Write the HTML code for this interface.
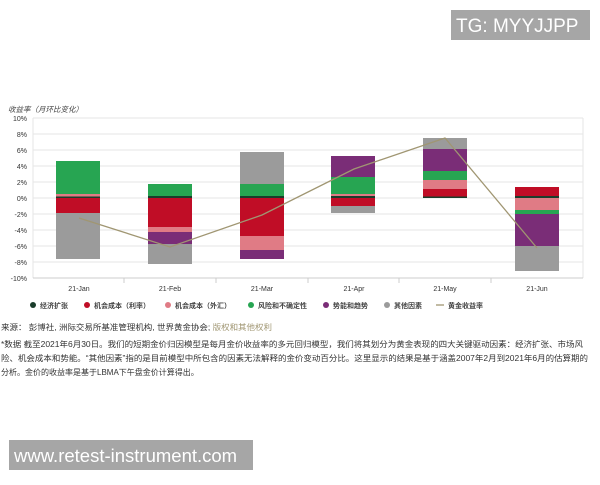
<!DOCTYPE html>
<html><head><meta charset="utf-8"><style>
body{margin:0;background:#fff;width:600px;height:480px;overflow:hidden;font-family:"Liberation Sans","Noto Sans CJK SC",sans-serif}
</style></head><body>
<svg width="600" height="480" xmlns="http://www.w3.org/2000/svg" font-family="Liberation Sans, Noto Sans CJK SC, sans-serif">
<rect x="451" y="10" width="139" height="30" fill="#a6a6a6"/>
<text x="456" y="32" font-size="19" fill="#fff">TG: MYYJJPP</text>
<text x="8" y="112" font-size="7.5" fill="#444" font-style="italic">收益率（月环比变化）</text>
<g stroke="#e6e6e6" stroke-width="1">
<line x1="33" y1="118" x2="583" y2="118"/><line x1="33" y1="134" x2="583" y2="134"/><line x1="33" y1="150" x2="583" y2="150"/><line x1="33" y1="166" x2="583" y2="166"/><line x1="33" y1="182" x2="583" y2="182"/><line x1="33" y1="198" x2="583" y2="198"/><line x1="33" y1="214" x2="583" y2="214"/><line x1="33" y1="230" x2="583" y2="230"/><line x1="33" y1="246" x2="583" y2="246"/><line x1="33" y1="262" x2="583" y2="262"/>
<line x1="33" y1="118" x2="33" y2="278"/><line x1="583" y1="118" x2="583" y2="278"/>
</g>
<line x1="33" y1="278" x2="583" y2="278" stroke="#ccc"/>
<g stroke="#ccc"><line x1="124" y1="278" x2="124" y2="283"/><line x1="216" y1="278" x2="216" y2="283"/><line x1="308" y1="278" x2="308" y2="283"/><line x1="399" y1="278" x2="399" y2="283"/><line x1="491" y1="278" x2="491" y2="283"/></g>
<g font-size="7" fill="#333" text-anchor="end">
<text x="27" y="121">10%</text><text x="27" y="137">8%</text><text x="27" y="153">6%</text><text x="27" y="169">4%</text><text x="27" y="185">2%</text><text x="27" y="201">0%</text><text x="27" y="217">-2%</text><text x="27" y="233">-4%</text><text x="27" y="249">-6%</text><text x="27" y="265">-8%</text><text x="27" y="281">-10%</text>
</g>
<g font-size="7" fill="#333" text-anchor="middle">
<text x="79" y="291">21-Jan</text><text x="170" y="291">21-Feb</text><text x="262" y="291">21-Mar</text><text x="354" y="291">21-Apr</text><text x="445" y="291">21-May</text><text x="537" y="291">21-Jun</text>
</g>
<rect x="56" y="161" width="44" height="33" fill="#27a552"/><rect x="56" y="194" width="44" height="2.5" fill="#e07b85"/><rect x="56" y="196.5" width="44" height="1.5" fill="#1a3d2b"/>
<rect x="56" y="198" width="44" height="15" fill="#c00d26"/><rect x="56" y="213" width="44" height="46" fill="#9b9b9b"/>
<rect x="148" y="184" width="44" height="12" fill="#27a552"/><rect x="148" y="196" width="44" height="2" fill="#1a3d2b"/>
<rect x="148" y="198" width="44" height="29" fill="#c00d26"/><rect x="148" y="227" width="44" height="5" fill="#e07b85"/><rect x="148" y="232" width="44" height="12" fill="#7a2d77"/><rect x="148" y="244" width="44" height="20" fill="#9b9b9b"/>
<rect x="240" y="152" width="44" height="32" fill="#9b9b9b"/><rect x="240" y="184" width="44" height="12" fill="#27a552"/><rect x="240" y="196" width="44" height="2" fill="#1a3d2b"/>
<rect x="240" y="198" width="44" height="38" fill="#c00d26"/><rect x="240" y="236" width="44" height="14" fill="#e07b85"/><rect x="240" y="250" width="44" height="9" fill="#7a2d77"/>
<rect x="331" y="156" width="44" height="21" fill="#7a2d77"/><rect x="331" y="177" width="44" height="17" fill="#27a552"/><rect x="331" y="194" width="44" height="2" fill="#e07b85"/><rect x="331" y="196" width="44" height="2" fill="#1a3d2b"/>
<rect x="331" y="198" width="44" height="8" fill="#c00d26"/><rect x="331" y="206" width="44" height="7" fill="#9b9b9b"/>
<rect x="423" y="138" width="44" height="11" fill="#9b9b9b"/><rect x="423" y="149" width="44" height="22" fill="#7a2d77"/><rect x="423" y="171" width="44" height="9" fill="#27a552"/><rect x="423" y="180" width="44" height="9" fill="#e07b85"/><rect x="423" y="189" width="44" height="7.5" fill="#c00d26"/><rect x="423" y="196.5" width="44" height="1.5" fill="#1a3d2b"/>
<rect x="515" y="187" width="44" height="9" fill="#c00d26"/><rect x="515" y="196" width="44" height="2" fill="#1a3d2b"/>
<rect x="515" y="198" width="44" height="12" fill="#e07b85"/><rect x="515" y="210" width="44" height="4" fill="#27a552"/><rect x="515" y="214" width="44" height="32" fill="#7a2d77"/><rect x="515" y="246" width="44" height="25" fill="#9b9b9b"/>
<polyline points="79,218 170,247 262,215 354,169 445,138 537,248" fill="none" stroke="#a09672" stroke-width="1.3"/>
<g font-size="7" fill="#444" font-weight="bold">
<circle cx="33" cy="305" r="3" fill="#1a3d2b"/><text x="40" y="308">经济扩张</text>
<circle cx="87" cy="305" r="3" fill="#c00d26"/><text x="94" y="308">机会成本（利率）</text>
<circle cx="168" cy="305" r="3" fill="#e07b85"/><text x="175" y="308">机会成本（外汇）</text>
<circle cx="251" cy="305" r="3" fill="#27a552"/><text x="258" y="308">风险和不确定性</text>
<circle cx="326" cy="305" r="3" fill="#7a2d77"/><text x="333" y="308">势能和趋势</text>
<circle cx="387" cy="305" r="3" fill="#9b9b9b"/><text x="394" y="308">其他因素</text>
<line x1="436" y1="305" x2="444" y2="305" stroke="#a09672" stroke-width="1.3"/><text x="448" y="308">黄金收益率</text>
</g>
<g font-size="8" fill="#333">
<text x="1" y="330" textLength="271" lengthAdjust="spacingAndGlyphs">来源： 彭博社, 洲际交易所基准管理机构, 世界黄金协会; <tspan fill="#a09672">版权和其他权利</tspan></text>
<text x="1" y="347" textLength="582" lengthAdjust="spacingAndGlyphs">*数据 截至2021年6月30日。我们的短期金价归因模型是每月金价收益率的多元回归模型，我们将其划分为黄金表现的四大关键驱动因素：经济扩张、市场风</text>
<text x="1" y="361" textLength="587" lengthAdjust="spacingAndGlyphs">险、机会成本和势能。“其他因素”指的是目前模型中所包含的因素无法解释的金价变动百分比。这里显示的结果是基于涵盖2007年2月到2021年6月的估算期的</text>
<text x="1" y="375">分析。金价的收益率是基于LBMA下午盘金价计算得出。</text>
</g>
<rect x="9" y="440" width="244" height="30" fill="#a6a6a6"/>
<text x="14" y="462" font-size="18.5" fill="#fff">www.retest-instrument.com</text>
</svg>
</body></html>
